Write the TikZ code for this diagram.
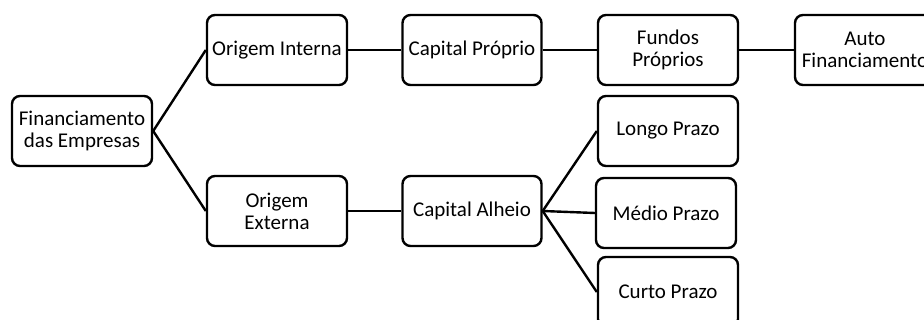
\documentclass[tikz,border=0pt]{standalone}
\usepackage{fontspec}
\setmainfont{Carlito}
\usepackage{tikz}
\usetikzlibrary{positioning}

\tikzset{
  finbox/.style={draw, line width=2.4pt, rounded corners=8pt,
    minimum width=140pt, minimum height=70pt, align=center,
    inner sep=2pt, font=\fontsize{21}{22}\selectfont},
  finlink/.style={line width=2.4pt}
}

\begin{document}
\begin{tikzpicture}[x=1pt, y=-1pt]
    \useasboundingbox (0,0) rectangle (924,320);
    % root
    \node[finbox] (fin) at (82,131) {Financiamento\\das Empresas};
    % origin
    \node[finbox] (oint) at (277,50) {Origem Interna};
    \node[finbox] (oext) at (277,211) {Origem\\Externa};
    % capital
    \node[finbox, minimum width=139pt] (cprop) at (472,50) {Capital Próprio};
    \node[finbox, minimum width=139pt] (calh) at (472,211) {Capital Alheio};
    % own funds
    \node[finbox] (fund) at (668,50) {Fundos\\Próprios};
    \node[finbox] (auto) at (865,50) {Auto\\Financiamento};
    % terms
    \node[finbox] (longo) at (668,131) {Longo Prazo};
    \node[finbox] (medio) at (666,213) {Médio Prazo};
    \node[finbox] (curto) at (668,292) {Curto Prazo};

    \draw[finlink] (fin.east) -- (oint.west);
    \draw[finlink] (fin.east) -- (oext.west);
    \draw[finlink] (oint.east) -- (cprop.west);
    \draw[finlink] (cprop.east) -- (fund.west);
    \draw[finlink] (fund.east) -- (auto.west);
    \draw[finlink] (oext.east) -- (calh.west);
    \draw[finlink] (calh.east) -- (longo.west);
    \draw[finlink] (calh.east) -- (medio.west);
    \draw[finlink] (calh.east) -- (curto.west);
\end{tikzpicture}
\end{document}
